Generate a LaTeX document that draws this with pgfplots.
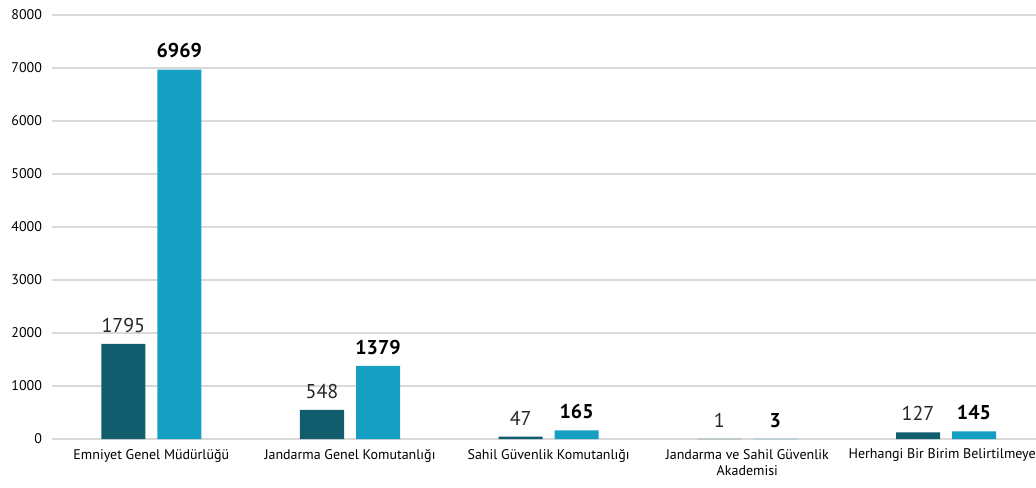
\documentclass[border=0pt]{standalone}
\usepackage{pgfplots}
\pgfplotsset{compat=1.18}
\usepackage{fontspec}
\setmainfont{PT Sans}
\definecolor{darkteal}{HTML}{125D6D}
\definecolor{lightblue}{HTML}{159FC3}
\definecolor{gridgray}{HTML}{D9D9D9}
\begin{document}
\begin{tikzpicture}
\begin{axis}[
    scale only axis,
    width=745pt, height=318pt,
    ymin=0, ymax=8000,
    xmin=-0.5, xmax=4.5,
    ytick={0,1000,...,8000},
    xtick={0,1,2,3,4},
    xticklabels={Emniyet Genel Müdürlüğü, Jandarma Genel Komutanlığı, Sahil Güvenlik Komutanlığı, {Jandarma ve Sahil Güvenlik\\Akademisi}, Herhangi Bir Birim Belirtilmeyen},
    xticklabel style={align=center, font=\fontsize{10.5}{12}\selectfont, yshift=-4pt},
    yticklabel style={font=\fontsize{10.5}{12}\selectfont, xshift=-4pt},
    /pgf/number format/assume math mode=true,
    /pgf/number format/1000 sep={},
    ymajorgrids, grid style={gridgray, line width=0.8pt},
    axis lines*=left,
    x axis line style={gridgray, line width=0.8pt, -},
    y axis line style={draw=none},
    major tick length=0pt,
    ybar=9pt, bar width=33pt,
    nodes near coords,
    clip=false,
]
\addplot[fill=darkteal, draw=none,
    every node near coord/.append style={font=\fontsize{15}{17}\selectfont, text=black!85, yshift=5pt}]
    coordinates {(0,1795) (1,548) (2,47) (3,1) (4,127)};
\addplot[fill=lightblue, draw=none,
    every node near coord/.append style={font=\fontsize{15}{17}\selectfont\bfseries, text=black, yshift=5pt}]
    coordinates {(0,6969) (1,1379) (2,165) (3,3) (4,145)};
\end{axis}
\pgfresetboundingbox
\useasboundingbox ([shift={(-39pt,-36pt)}]current axis.south west) rectangle ([shift={(738pt,329.25pt)}]current axis.south west);
\end{tikzpicture}
\end{document}
